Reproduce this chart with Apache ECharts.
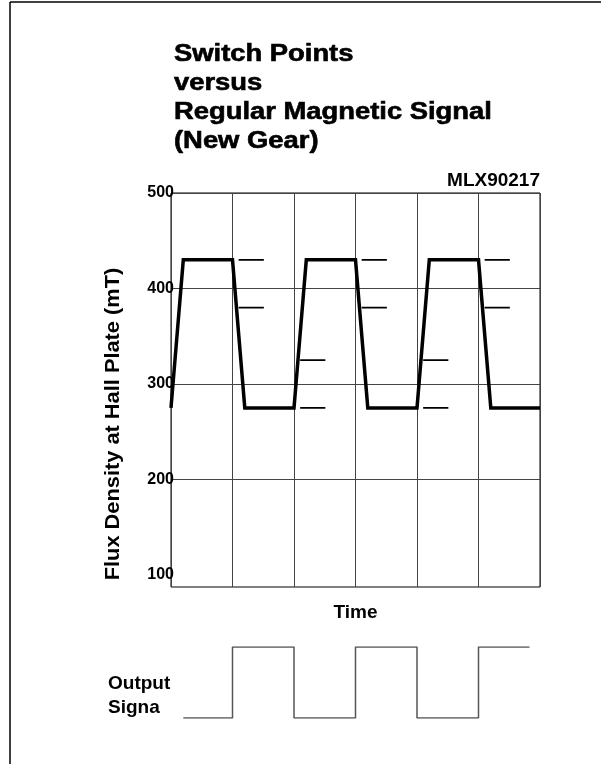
<!DOCTYPE html>
<html>
<head>
<meta charset="utf-8">
<script src="https://cdn.jsdelivr.net/npm/echarts@6/dist/echarts.min.js"></script>
<style>
  html, body { margin: 0; padding: 0; background: #fff; }
  #chart { width: 601px; height: 764px; }
</style>
</head>
<body>
<div id="chart"></div>
<script>
// flux signal (time in gear-tooth units, flux in mT)
const waveTime = [0, 0.2, 1.0, 1.2, 2.0, 2.2, 3.0, 3.2, 4.0, 4.2, 5.0, 5.2, 6.0];
const waveFlux = [275, 430, 430, 275, 275, 430, 430, 275, 275, 430, 430, 275, 275];

// switch point markers drawn after each edge
const offEdges = [1, 3, 5];
const offLevels = [430, 380];
const onEdges = [2, 4];
const onLevels = [325, 275];
const dashFrom = 0.1;
const dashTo = 0.51;

// output signal
const outTime = [0.2, 1, 2, 3, 4, 5, 5.83];
const outLevel = [0, 1, 0, 1, 0, 1, 1];

const titleLines = ['Switch Points', 'versus', 'Regular Magnetic Signal', '(New Gear)'];

const FONT = '"Liberation Sans", Arial, sans-serif';

function dashData(edges, levels) {
  const out = [];
  edges.forEach(t => {
    levels.forEach(v => {
      out.push([t + dashFrom, v], [t + dashTo, v], '-');
    });
  });
  return out;
}

const chart = echarts.init(document.getElementById('chart'));

const gridL = 171, gridR = 61;

chart.setOption({
  animation: false,
  backgroundColor: '#fff',
  graphic: [
    { type: 'line', shape: { x1: 10, y1: 2, x2: 601, y2: 2 }, style: { stroke: '#000', lineWidth: 1.5 } },
    { type: 'line', shape: { x1: 10, y1: 2, x2: 10, y2: 764 }, style: { stroke: '#000', lineWidth: 1.5 } },
    {
      type: 'text', x: 174, y: 40, scaleX: 1.19,
      style: { text: titleLines.join('\n'), font: 'bold 23px ' + FONT, lineHeight: 29,
        fill: '#000', stroke: '#000', lineWidth: 0.6 }
    },
    {
      type: 'text', x: 540, y: 171,
      style: { text: 'MLX90217', font: 'bold 19px ' + FONT, fill: '#000', align: 'right' }
    },
    {
      type: 'text', x: 113, y: 424, rotation: Math.PI / 2, scaleX: 1.09,
      style: { text: 'Flux Density at Hall Plate (mT)', font: 'bold 20px ' + FONT, fill: '#000',
        align: 'center', verticalAlign: 'middle' }
    },
    {
      type: 'text', x: 108, y: 672,
      style: { text: 'Output\nSigna', font: 'bold 19px ' + FONT, lineHeight: 24, fill: '#000' }
    }
  ],
  grid: [
    { left: gridL, right: gridR, top: 193, height: 382 },
    { left: gridL, right: gridR, top: 193, height: 394, show: true, borderColor: '#000', borderWidth: 1 },
    { left: gridL, right: gridR, top: 647, height: 71 }
  ],
  xAxis: [
    { gridIndex: 0, type: 'value', min: 0, max: 6, interval: 1, show: false },
    {
      gridIndex: 1, type: 'value', min: 0, max: 6, interval: 1,
      axisLine: { show: false }, axisTick: { show: false }, axisLabel: { show: false },
      splitLine: { show: true, lineStyle: { color: '#444', width: 1 } },
      name: 'Time', nameLocation: 'middle', nameGap: 16,
      nameTextStyle: { fontFamily: FONT, fontWeight: 'bold', fontSize: 19, color: '#000' }
    },
    { gridIndex: 2, type: 'value', min: 0, max: 6, interval: 1, show: false }
  ],
  yAxis: [
    {
      gridIndex: 0, type: 'value', min: 100, max: 500, interval: 100,
      axisLine: { show: false }, axisTick: { show: false },
      axisLabel: { margin: -3, fontFamily: FONT, fontWeight: 'bold', fontSize: 16, color: '#000' },
      splitLine: { show: true, showMinLine: false, lineStyle: { color: '#444', width: 1 } }
    },
    { gridIndex: 1, type: 'value', min: 0, max: 1, show: false },
    { gridIndex: 2, type: 'value', min: 0, max: 1, show: false }
  ],
  series: [
    {
      type: 'line', xAxisIndex: 0, yAxisIndex: 0, symbol: 'none',
      data: waveTime.map((t, i) => [t, waveFlux[i]]),
      lineStyle: { color: '#000', width: 3.5, join: 'miter' }, z: 5
    },
    {
      type: 'line', xAxisIndex: 0, yAxisIndex: 0, symbol: 'none', connectNulls: false,
      data: dashData(offEdges, offLevels).concat(dashData(onEdges, onLevels)),
      lineStyle: { color: '#000', width: 1.6 }
    },
    {
      type: 'line', xAxisIndex: 2, yAxisIndex: 2, symbol: 'none', step: 'end',
      data: outTime.map((t, i) => [t, outLevel[i]]),
      lineStyle: { color: '#555', width: 1.5 }
    }
  ]
});
</script>
</body>
</html>
